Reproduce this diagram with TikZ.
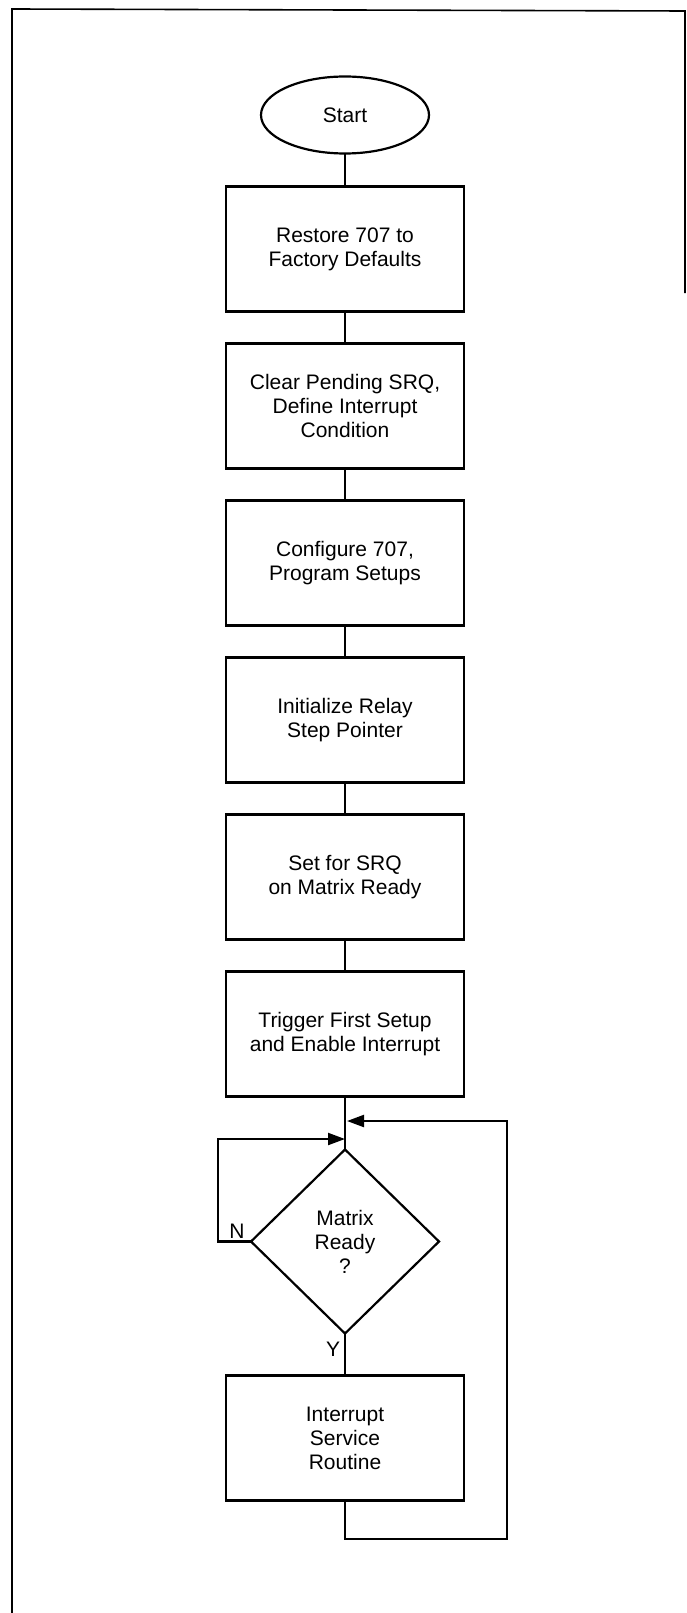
\documentclass[tikz,border=0pt]{standalone}
\usepackage{fontspec}
\setmainfont{Liberation Sans}
\usetikzlibrary{arrows.meta, shapes.geometric, positioning}

\begin{document}
\begin{tikzpicture}[
  x=1pt, y=-1pt,
  node distance=32pt,
  every node/.style={font=\fontsize{21}{24}\selectfont},
  box/.style={rectangle, draw, line width=2.2pt, minimum width=238pt,
              minimum height=125pt, align=center, inner sep=0pt, outer sep=0pt},
  term/.style={ellipse, draw, line width=2.2pt, minimum width=168pt,
               minimum height=77pt, inner sep=0pt, outer sep=0pt},
  dec/.style={diamond, draw, line width=2.2pt, minimum width=188pt,
              minimum height=184pt, align=center, inner sep=0pt, outer sep=0pt},
  conn/.style={line width=2.2pt},
  arr/.style={conn, -{Triangle[length=17pt, width=12pt]}},
  frame/.style={line width=1.6pt},
]
\useasboundingbox (0,0) rectangle (687,1613);
\draw[frame] (12,1613) -- (12,9) -- (685,11) -- (685,293);

\node[term] (start) at (345,115) {Start};
\node[box, below=33pt of start] (restore) {Restore 707 to\\Factory Defaults};
\node[box, below=of restore] (clear) {Clear Pending SRQ,\\Define Interrupt\\Condition};
\node[box, below=of clear]   (config) {Configure 707,\\Program Setups};
\node[box, below=of config]  (init) {Initialize Relay\\Step Pointer};
\node[box, below=of init]    (setsrq) {Set for SRQ\\on Matrix Ready};
\node[box, below=of setsrq]  (trig) {Trigger First Setup\\and Enable Interrupt};
\node[dec, below=53pt of trig] (ready) {Matrix\\Ready\\?};
\node[box, below=42pt of ready] (isr) {Interrupt\\Service\\Routine};

\node (nlbl) at (237,1231) {N};
\node (ylbl) at (333,1349) {Y};

\coordinate (lf) at (218,1139);
\coordinate (jn) at (345,1139);
\coordinate (jy) at (347,1121);
\coordinate (rt) at (507,1539);

\draw[conn] (start) -- (restore);
\draw[conn] (restore) -- (clear);
\draw[conn] (clear) -- (config);
\draw[conn] (config) -- (init);
\draw[conn] (init) -- (setsrq);
\draw[conn] (setsrq) -- (trig);
\draw[conn] (trig) -- (ready);
\draw[conn] (ready) -- (isr);

\draw[arr] (ready.west) -| (lf) -- (jn);
\draw[arr] (isr.south) |- (rt) |- (jy);
\end{tikzpicture}
\end{document}
